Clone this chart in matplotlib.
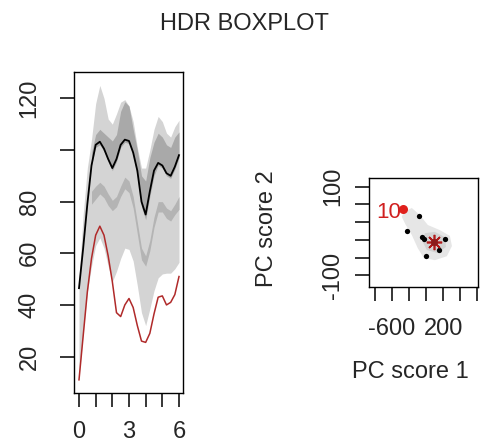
import numpy as np
import matplotlib
matplotlib.use("Agg")
import matplotlib.pyplot as plt
from matplotlib.patches import Polygon

plt.rcParams['font.family'] = ['Liberation Sans', 'DejaVu Sans']

# functional panel: curves at x = 0, 0.25, ..., 6
t = [0.0, 0.25, 0.5, 0.75, 1.0, 1.25, 1.5, 1.75, 2.0, 2.25, 2.5, 2.75, 3.0,
     3.25, 3.5, 3.75, 4.0, 4.25, 4.5, 4.75, 5.0, 5.25, 5.5, 5.75, 6.0]
mode_curve = [46.5, 62, 79, 94, 102, 103.2, 100.5, 96.5, 93, 96.5, 102, 104, 103.5,
              99, 92, 80, 75, 84, 92, 95, 94, 91, 90, 93.5, 98]
outlier_curve = [11, 28, 45, 58, 67, 70.5, 67, 59, 49, 37, 35.5, 40, 42.5,
                 39, 32, 26, 25.5, 29, 36.5, 43, 43.5, 40, 41, 44, 51]
hdr95_hi = [50, 75, 93, 104, 118, 125, 120, 112, 110, 114, 118.5, 119.5, 117,
            111, 101, 93, 93, 100, 108, 113, 111, 106.5, 105, 109, 111.5]
hdr95_lo = [12, 29, 45, 55, 63, 66, 62, 55, 49, 53, 58, 62, 61.5,
            57, 47.5, 37, 32, 38.5, 45.5, 50.5, 52, 52.3, 52.3, 54, 56.5]
hdr50a_hi = [np.nan, np.nan, np.nan, 99, 106, 108, 106.5, 105, 103.5, 106, 115, 118.7, 117,
             108, 100, 90, 88, 97, 103, 106.5, 105, 102, 101, 105, 107]
hdr50a_lo = [np.nan, np.nan, np.nan, 94, 101, 102, 99.5, 95.5, 92, 95.5, 101, 103, 102.5,
             98, 90, 78, 73, 82, 90, 94, 93, 90, 89, 92.5, 97]
hdr50b_hi = [np.nan, np.nan, np.nan, 84, 86, 87.5, 86, 83, 80.5, 82, 86, 89.5, 88,
             82, 72, 62, 59, 65, 74, 80, 80, 77.5, 76.5, 79, 82]
hdr50b_lo = [np.nan, np.nan, np.nan, 79, 81, 83, 81.5, 78.5, 76.5, 78, 82, 85, 83.5,
             77.5, 67.5, 57.5, 55, 61, 70, 76, 76, 73.5, 72.5, 75, 77]

# PC score panel
pc1 = [-181, -374, -134, -98, 222, 142, -74]
pc2 = [34, 1, -13, -18, -17, -44, -56]
outlier_pc = (-432, 49)
outlier_label = "10"
mode_pc = (64, -25)
region95_pc1 = [-416, -291, -165, -40, 148, 305, 337, 258, 70, -103, -197, -291, -385, -448]
region95_pc2 = [43, 52, 36, 13.5, 2, -11, -34, -57, -66, -61, -39, -9, 13.5, 32]
region50_pc1 = [-87, 70, 227, 243, 117, -56, -118]
region50_pc2 = [-5, -2, -14, -36, -50, -43, -25]

left_yticks = [20, 40, 60, 80, 100, 120]
left_ylabels = ["20", "40", "60", "80", "", "120"]
left_xticks = [0, 1, 2, 3, 4, 5, 6]
left_xlabels = ["0", "", "", "3", "", "", "6"]
right_xticks = [-866.7, -600, -333.3, -66.7, 200, 466.7, 733.3]
right_xlabels = ["", "-600", "", "", "200", "", ""]
right_yticks = [-100, -60, -20, 20, 60, 100]
right_ylabels = ["-100", "", "", "", "", "100"]

FS = 17
txt = '#262626'

fig = plt.figure(figsize=(4.85, 4.48), dpi=100)
fig.text(0.505, 0.947, "HDR BOXPLOT", ha='center', va='center', fontsize=FS, color=txt)

ax = fig.add_axes([74 / 485, 1 - 393 / 448, 109 / 485, 321 / 448])
ax.fill_between(t, hdr95_lo, hdr95_hi, color='#d4d4d4', lw=0)
ax.fill_between(t, hdr50a_lo, hdr50a_hi, color='#a9a9a9', lw=0)
ax.fill_between(t, hdr50b_lo, hdr50b_hi, color='#b4b4b4', lw=0)
ax.plot(t, mode_curve, color='black', lw=1.3)
ax.plot(t, outlier_curve, color='#b02a2a', lw=1.1)
ax.set_xlim(-0.3, 6.24)
ax.set_ylim(5.9, 130.2)
ax.set_xticks(left_xticks)
ax.set_xticklabels(left_xlabels, fontsize=FS, color=txt)
ax.set_yticks(left_yticks)
ax.set_yticklabels(left_ylabels, fontsize=FS, color=txt, rotation=90, va='center')
ax.tick_params(axis='both', length=10, width=1.1, direction='out')
ax.tick_params(axis='y', pad=14)
ax.tick_params(axis='x', pad=10)
for s in ax.spines.values():
    s.set_linewidth(1.0)

ax2 = fig.add_axes([369 / 485, 1 - 287 / 448, 109 / 485, 109 / 448])
ax2.add_patch(Polygon(np.column_stack([region95_pc1, region95_pc2]), closed=True,
                      facecolor='#e6e6e6', edgecolor='none'))
ax2.add_patch(Polygon(np.column_stack([region50_pc1, region50_pc2]), closed=True,
                      facecolor='#d2d2d2', edgecolor='none'))
ax2.plot(pc1, pc2, 'o', color='black', ms=3.8, mew=0)
ax2.plot(*mode_pc, marker=(8, 2, 0), color='#b01818', ms=11, mew=1.2)
ax2.plot(*mode_pc, 'o', color='#8b1a1a', ms=5, mew=0)
ax2.plot(*outlier_pc, 'o', color='#e0201c', ms=6.5, mew=0)
ax2.annotate(outlier_label, outlier_pc, xytext=(-1, -2), textcoords='offset points',
             ha='right', va='center', fontsize=16, color='#d02020')
ax2.set_xlim(-961, 745)
ax2.set_ylim(-126.6, 119.8)
ax2.set_xticks(right_xticks)
ax2.set_xticklabels(right_xlabels, fontsize=FS, color=txt)
ax2.set_yticks(right_yticks)
ax2.set_yticklabels(right_ylabels, fontsize=FS, color=txt, rotation=90, va='center')
ax2.tick_params(axis='both', length=10, width=1.1, direction='out')
ax2.tick_params(axis='y', pad=8)
ax2.tick_params(axis='x', pad=12)
ax2.set_xlabel("PC score 1", fontsize=FS, color=txt)
ax2.xaxis.set_label_coords(0.376, -0.78)
ax2.xaxis.label.set_va('center')
ax2.set_ylabel("PC score 2", fontsize=FS, color=txt)
ax2.yaxis.set_label_coords(-0.936, 0.537)
ax2.yaxis.label.set_va('center')
for s in ax2.spines.values():
    s.set_linewidth(1.0)

fig.savefig("out.png", dpi=100)
